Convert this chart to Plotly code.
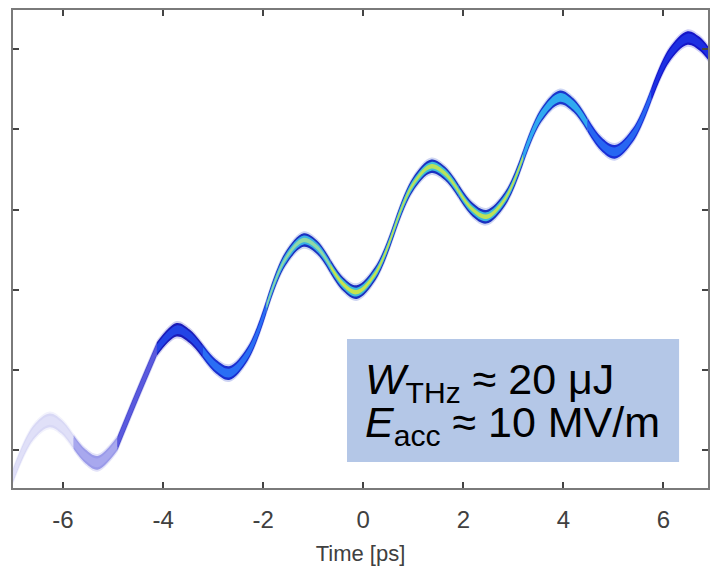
import plotly.graph_objects as go

# ---- data (centre of the electron band) ----
t_ps = [-7.00, -6.60, -6.27, -6.03, -5.79, -5.55, -5.31, -4.915, -4.52, -4.125,
        -3.73, -3.47, -3.205, -2.94, -2.68, -2.31, -1.935, -1.56, -1.19, -0.925,
        -0.66, -0.395, -0.13, 0.24, 0.615, 0.99, 1.36, 1.635, 1.91, 2.185,
        2.46, 2.83, 3.195, 3.56, 3.93, 4.205, 4.48, 4.755, 5.03, 5.39,
        5.755, 6.12, 6.48, 6.72, 7.00]
band_centre = [-0.32, 0.21, 0.37, 0.29, 0.10, -0.08, -0.16, 0.08, 0.68, 1.26,
               1.50, 1.42, 1.23, 1.04, 0.96, 1.20, 1.79, 2.38, 2.62, 2.53,
               2.295, 2.065, 1.97, 2.20, 2.755, 3.31, 3.54, 3.45, 3.225, 3.00,
               2.91, 3.13, 3.655, 4.18, 4.40, 4.30, 4.06, 3.82, 3.72, 3.93,
               4.43, 4.93, 5.14, 5.07, 4.86]

x_ticks = [-6, -4, -2, 0, 2, 4, 6]
x_tick_labels = ["-6", "-4", "-2", "0", "2", "4", "6"]
y_ticks = [0, 1, 2, 3, 4, 5]
x_title = "Time [ps]"
label_line1 = "<i>W</i><sub>THz</sub> ≈ 20 μJ"
label_line2 = "<i>E</i><sub>acc</sub> ≈ 10 MV/m"

# ---- styling of the band: segments (index ranges) and colour layers ----
segments = [
    # i0, i1, glow, outer, inner, core
    (0, 4, "#f2f2fc", "#d8d8f5", "#e0e0f8", None),
    (4, 7, "#e2e2f8", "#9a9ae9", "#a8a8ee", None),
    (7, 9, "#d6d6f4", "#4a4ad0", "#5a5ade", None),
    (9, 12, "#cfcff0", "#1a1ab8", "#2244e6", None),
    (12, 16, "#cdd3f4", "#1a2ed0", "#2a6ef4", None),
    (16, 20, "#cfd6f2", "#1a2fc0", "#38aee6", "#8fd9a6"),
    (20, 24, "#cfd6f2", "#1a2fc0", "#3fbcd8", "#c6e44e"),
    (24, 28, "#cfd6f2", "#1a2fc0", "#3dbedc", "#b8e25c"),
    (28, 32, "#cfd6f2", "#1a2fc0", "#3ab8de", "#bde258"),
    (32, 36, "#cdd6f4", "#1c36cc", "#30aaf0", None),
    (36, 40, "#cdd3f6", "#1a2ed6", "#2766f2", None),
    (40, 44, "#cfcff6", "#1414c8", "#1d2fe2", None),
]
layers = [("glow", 0.11), ("outer", 0.085), ("inner", 0.055), ("core", 0.028)]

fig = go.Figure()
for lname, hw in layers:
    for (i0, i1, glow, outer, inner, core) in segments:
        col = {"glow": glow, "outer": outer, "inner": inner, "core": core}[lname]
        if col is None:
            continue
        xs = t_ps[i0:i1 + 1]
        yc = band_centre[i0:i1 + 1]
        lo = [v - hw for v in yc]
        hi = [v + hw for v in yc]
        fig.add_trace(go.Scatter(x=xs, y=lo, mode="lines",
                                 line=dict(width=0, shape="spline", color=col),
                                 hoverinfo="skip", showlegend=False))
        fig.add_trace(go.Scatter(x=xs, y=hi, mode="lines", fill="tonexty",
                                 fillcolor=col,
                                 line=dict(width=0, shape="spline", color=col),
                                 hoverinfo="skip", showlegend=False))

axis_common = dict(showline=True, linecolor="#7a7a7a", linewidth=2,
                   mirror="ticks", ticks="inside", ticklen=6, tickwidth=1.5,
                   tickcolor="#444444", showgrid=False, zeroline=False)

fig.update_xaxes(range=[-7.0, 6.89], tickvals=x_ticks, ticktext=x_tick_labels,
                 tickfont=dict(family="Liberation Sans, Arial", size=24, color="#404040"),
                 title=dict(text=x_title, standoff=14,
                            font=dict(family="Liberation Sans, Arial", size=22, color="#404040")),
                 ticklabelstandoff=9, **axis_common)
fig.update_yaxes(range=[-0.474, 5.49], tickvals=y_ticks, showticklabels=False,
                 **axis_common)

# label box (one text element; small base size gives the tight line spacing)
fig.add_shape(type="rect", xref="paper", yref="paper",
              x0=0.4806, x1=0.9584, y0=0.0544, y1=0.3117,
              fillcolor="#b4c7e7", line=dict(width=0), layer="above")
big = '<span style="font-size:43px">{}</span>'
fig.add_annotation(xref="paper", yref="paper", x=0.5035, y=0.176,
                   xanchor="left", yanchor="middle", showarrow=False,
                   text=big.format(label_line1) + "<br>" + big.format(label_line2),
                   align="left",
                   font=dict(family="Liberation Sans, Arial", size=33, color="#000000"))

fig.update_layout(width=710, height=573, margin=dict(l=13, r=0, t=10, b=85),
                  plot_bgcolor="white", paper_bgcolor="white")

fig.write_html("out.html")
